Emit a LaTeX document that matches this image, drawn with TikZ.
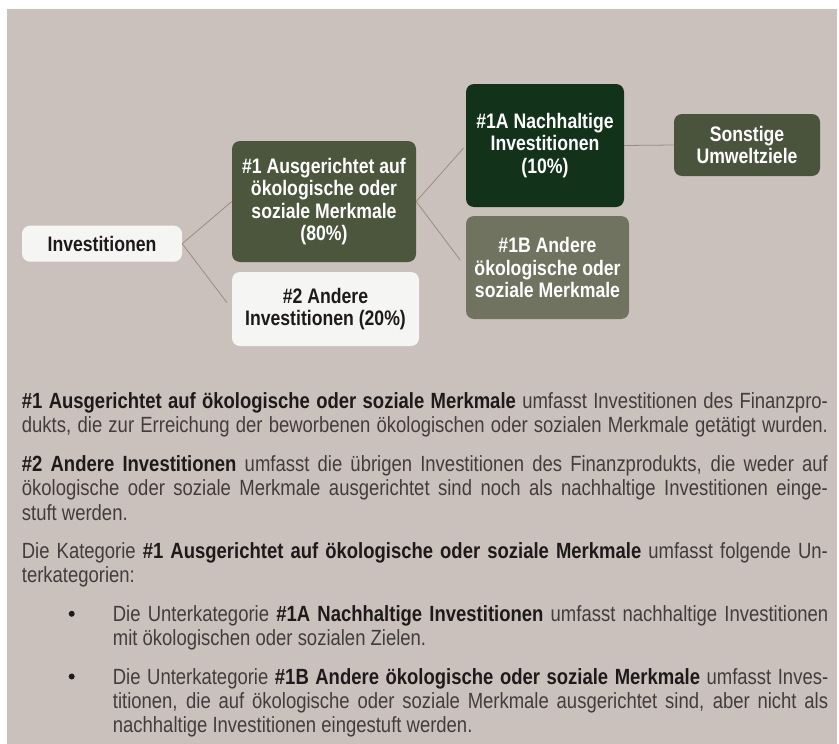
\documentclass[tikz,border=0pt]{standalone}
\usepackage{fontspec}
\setmainfont{Liberation Sans}[FakeStretch=0.84]
\definecolor{bgc}{HTML}{CBC1BC}
\definecolor{linkc}{HTML}{9B8C82}
\definecolor{whitebox}{HTML}{F5F5F3}
\definecolor{olive}{HTML}{4B563D}
\definecolor{darkgreen}{HTML}{13321A}
\definecolor{olive2}{HTML}{4A543D}
\definecolor{greyolive}{HTML}{6F735F}
\definecolor{boldc}{HTML}{1E1A1B}
\definecolor{bodyc}{HTML}{423D3D}
\newcommand{\hl}[1]{{\bfseries\color{boldc}#1}}
\newcommand{\bodyfont}{\fontsize{22}{24.4}\selectfont\hyphenpenalty=10000\leavevmode}
\begin{document}
\begin{tikzpicture}[x=1pt,y=-1pt,
  box/.style={rounded corners=8pt, inner sep=0pt, align=center,
    font=\fontsize{21}{22.6}\selectfont\bfseries, text=white},
  lightbox/.style={box, fill=whitebox, text=boldc},
  link/.style={draw=linkc, line width=0.8pt},
  para/.style={anchor=base west, inner sep=0pt, text=bodyc},
  bullet/.style={circle, fill=boldc, inner sep=0pt, minimum size=6pt}
]
\useasboundingbox (0,0) rectangle (839,744);
\fill[white] (0,0) rectangle (839,744);
\fill[bgc] (7,9) rectangle (837,744);

% nodes
\node[lightbox, minimum width=160pt, minimum height=36pt] (inv) at (102,243.7) {Investitionen};
\node[box, fill=olive, minimum width=184pt, minimum height=121pt] (n1) at (324,201.5)
  {\#1 Ausgerichtet auf\\ökologische oder\\soziale Merkmale\\(80\%)};
\node[lightbox, minimum width=187pt, minimum height=74pt] (n2) at (325.5,309)
  {\#2 Andere\\Investitionen (20\%)};
\node[box, fill=darkgreen, minimum width=158pt, minimum height=123pt] (n1a) at (545,145.5)
  {\#1A Nachhaltige\\Investitionen\\(10\%)};
\node[box, fill=olive2, minimum width=146pt, minimum height=62pt] (son) at (747,145)
  {Sonstige\\Umweltziele};
\node[box, fill=greyolive, minimum width=163pt, minimum height=103pt] (n1b) at (547.5,267.5)
  {\#1B Andere\\ökologische oder\\soziale Merkmale};

% connectors
\draw[link] (inv.east) -- (n1.west);
\draw[link, shorten >=8pt] (inv.east) -- (n2.west);
\draw[link, shorten >=3.5pt] (n1.east) -- (n1a.west);
\draw[link, shorten >=9pt] (n1.east) -- (n1b.west);
\draw[link] (n1a.east) -- (son.west);

% text
\node[para] (p1) at (21.7,408.5) {\parbox[t]{806pt}{\bodyfont\parfillskip=0pt
\hl{\#1 Ausgerichtet auf ökologische oder soziale Merkmale} umfasst Investitionen des Finanzpro-\linebreak dukts, die zur Erreichung der beworbenen ökologischen oder sozialen Merkmale getätigt wurden.}};
\node[para] (p2) at (21.7,471.5) {\parbox[t]{806pt}{\bodyfont
\hl{\#2 Andere Investitionen} umfasst die übrigen Investitionen des Finanzprodukts, die weder auf\linebreak ökologische oder soziale Merkmale ausgerichtet sind noch als nachhaltige Investitionen einge-\linebreak stuft werden.}};
\node[para] (p3) at (21.7,558.5) {\parbox[t]{806pt}{\bodyfont
Die Kategorie \hl{\#1 Ausgerichtet auf ökologische oder soziale Merkmale} umfasst folgende Un-\linebreak terkategorien:}};
\node[bullet] (d1) at (71.7,613.8) {};
\node[para] (b1) at (112.7,621.3) {\parbox[t]{715.3pt}{\bodyfont
Die Unterkategorie \hl{\#1A Nachhaltige Investitionen} umfasst nachhaltige Investitionen\linebreak mit ökologischen oder sozialen Zielen.}};
\node[bullet] (d2) at (71.7,676.5) {};
\node[para] (b2) at (112.7,684) {\parbox[t]{715.3pt}{\bodyfont
Die Unterkategorie \hl{\#1B Andere ökologische oder soziale Merkmale} umfasst Inves-\linebreak titionen, die auf ökologische oder soziale Merkmale ausgerichtet sind, aber nicht als\linebreak nachhaltige Investitionen eingestuft werden.}};
\end{tikzpicture}
\end{document}
